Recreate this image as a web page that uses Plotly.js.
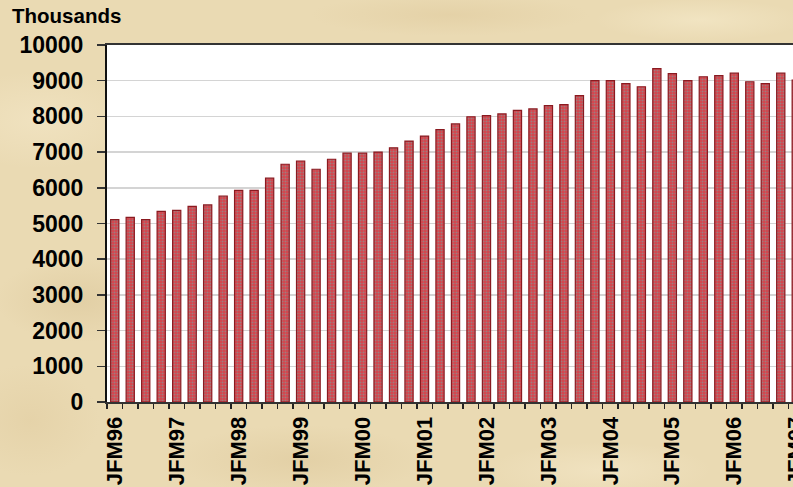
<!DOCTYPE html>
<html>
<head>
<meta charset="utf-8">
<script src="https://cdn.plot.ly/plotly-3.0.1.min.js"></script>
<style>
  html, body { margin: 0; padding: 0; width: 793px; height: 487px; overflow: hidden; }
  body {
    background-color: #eadab3;
    background-image:
      radial-gradient(ellipse 120px 60px at 80px 300px, rgba(210,186,138,0.35), rgba(210,186,138,0) 70%),
      radial-gradient(ellipse 140px 70px at 40px 120px, rgba(246,234,204,0.5), rgba(246,234,204,0) 70%),
      radial-gradient(ellipse 180px 50px at 300px 460px, rgba(214,190,142,0.35), rgba(214,190,142,0) 70%),
      radial-gradient(ellipse 160px 40px at 600px 470px, rgba(246,234,204,0.5), rgba(246,234,204,0) 70%),
      radial-gradient(ellipse 200px 30px at 450px 15px, rgba(218,194,146,0.35), rgba(218,194,146,0) 70%),
      radial-gradient(ellipse 150px 30px at 700px 20px, rgba(248,238,208,0.5), rgba(248,238,208,0) 70%),
      radial-gradient(ellipse 100px 80px at 30px 420px, rgba(218,194,146,0.3), rgba(218,194,146,0) 70%);
  }
  #chart { width: 804px; height: 487px; }
</style>
</head>
<body>
<div id="chart"></div>
<script>
// Quarter categories (JFM = Jan-Mar, AMJ = Apr-Jun, JAS = Jul-Sep, OND = Oct-Dec)
const categories = [
  'JFM96','AMJ96','JAS96','OND96',
  'JFM97','AMJ97','JAS97','OND97',
  'JFM98','AMJ98','JAS98','OND98',
  'JFM99','AMJ99','JAS99','OND99',
  'JFM00','AMJ00','JAS00','OND00',
  'JFM01','AMJ01','JAS01','OND01',
  'JFM02','AMJ02','JAS02','OND02',
  'JFM03','AMJ03','JAS03','OND03',
  'JFM04','AMJ04','JAS04','OND04',
  'JFM05','AMJ05','JAS05','OND05',
  'JFM06','AMJ06','JAS06','OND06',
  'JFM07'
];
// Values in thousands
const values = [
  5110, 5170, 5110, 5340,
  5370, 5480, 5520, 5770,
  5930, 5930, 6270, 6660,
  6750, 6520, 6800, 6970,
  6970, 7000, 7120, 7310,
  7450, 7630, 7790, 7990,
  8020, 8070, 8170, 8210,
  8300, 8330, 8580, 9000,
  9000, 8920, 8830, 9340,
  9200, 9000, 9110, 9140,
  9210, 8970, 8920, 9210,
  9020
];
// Only the first quarter of each year is labelled
const tickLabels = categories.map(c => c.startsWith('JFM') ? c : '');
const yTickVals = [0,1000,2000,3000,4000,5000,6000,7000,8000,9000,10000];
const unitLabel = 'Thousands';

const boldFont = {family: 'Arial, "Liberation Sans", sans-serif', color: '#000000', weight: 'bold'};

const trace = {
  type: 'bar',
  x: categories,
  y: values,
  marker: {
    color: '#d4434b',
    line: {color: '#8a1a20', width: 1.2},
    pattern: {shape: '.', size: 3, solidity: 0.38, fgcolor: '#9e7c7e', bgcolor: '#d8434b', fillmode: 'replace'}
  },
  hoverinfo: 'x+y'
};

const layout = {
  width: 804,
  height: 487,
  margin: {l: 107, r: 0, t: 45, b: 85},
  paper_bgcolor: 'rgba(0,0,0,0)',
  plot_bgcolor: '#ffffff',
  showlegend: false,
  bargap: 0.47,
  xaxis: {
    type: 'category',
    range: [-0.5, categories.length - 0.5],
    tickmode: 'array',
    tickvals: categories,
    ticktext: tickLabels,
    tickson: 'boundaries',
    ticks: 'outside',
    ticklen: 5,
    tickwidth: 1.5,
    tickcolor: '#222222',
    tickangle: -90,
    ticklabelstandoff: 4,
    tickfont: Object.assign({size: 22}, boldFont),
    showline: true,
    linecolor: '#333333',
    linewidth: 2,
    mirror: true,
    showgrid: false,
    zeroline: false,
    automargin: false,
    fixedrange: true
  },
  yaxis: {
    range: [0, 10000],
    tickmode: 'array',
    tickvals: yTickVals,
    ticktext: yTickVals.map(String),
    ticks: 'outside',
    ticklen: 8,
    tickwidth: 1.5,
    tickcolor: '#333333',
    ticklabelstandoff: 9,
    tickfont: Object.assign({size: 23}, boldFont),
    showline: true,
    linecolor: '#111111',
    linewidth: 2,
    showgrid: true,
    gridcolor: '#d4d4d4',
    gridwidth: 1.5,
    zeroline: false,
    automargin: false,
    fixedrange: true
  },
  annotations: [{
    text: unitLabel,
    xref: 'paper', yref: 'paper',
    x: -0.1385, y: 1.083,
    xanchor: 'left', yanchor: 'middle',
    showarrow: false,
    font: Object.assign({size: 20.5}, boldFont)
  }]
};

Plotly.newPlot('chart', [trace], layout, {displayModeBar: false, staticPlot: true});
</script>
</body>
</html>
